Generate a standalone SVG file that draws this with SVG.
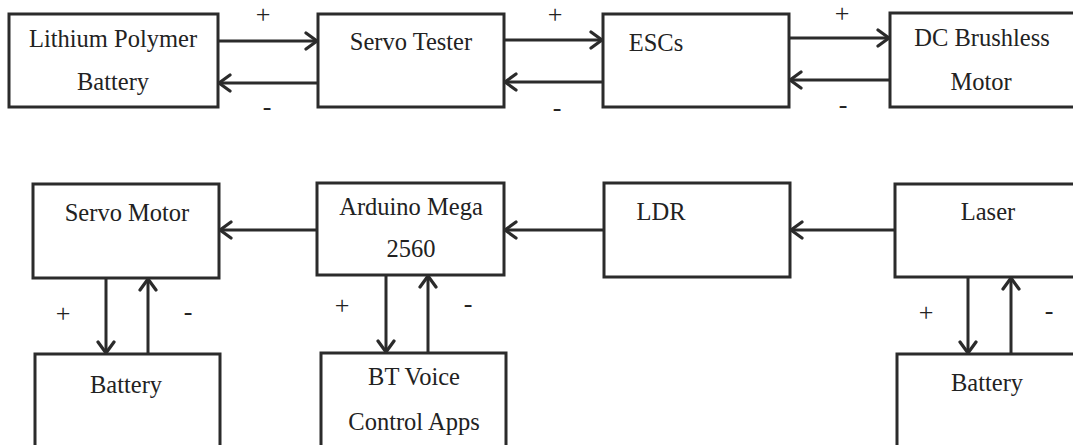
<svg xmlns="http://www.w3.org/2000/svg" width="1073" height="445" viewBox="0 0 1073 445">
  <style>
    .box { fill: #ffffff; stroke: #2b2b2b; stroke-width: 3; }
    .wire { stroke: #2b2b2b; stroke-width: 3; fill: none; marker-end: url(#head); }
  </style>
  <defs>
    <marker id="head" markerUnits="userSpaceOnUse" markerWidth="16" markerHeight="20" viewBox="0 0 16 20" refX="13" refY="10" orient="auto">
      <path d="M2,2 L13,10 L2,18" fill="none" stroke="#2b2b2b" stroke-width="3.2" stroke-linecap="round" stroke-linejoin="round"/>
    </marker>
  </defs>
  <rect width="1073" height="445" fill="#ffffff"/>

  <g font-family="Liberation Serif, serif" font-size="24.5" fill="#222222" text-anchor="middle">
  <!-- top row: power chain -->
  <g id="lipo-battery">
    <rect class="box" x="9" y="14" width="209" height="93"/>
    <text x="113" y="47">Lithium Polymer</text>
    <text x="113" y="90">Battery</text>
  </g>
  <g id="servo-tester">
    <rect class="box" x="318" y="14" width="186" height="93"/>
    <text x="411" y="50">Servo Tester</text>
  </g>
  <g id="escs">
    <rect class="box" x="603" y="14" width="186" height="93"/>
    <text x="656" y="51">ESCs</text>
  </g>
  <g id="dc-brushless-motor">
    <rect class="box" x="890" y="13" width="200" height="94"/>
    <text x="982" y="46">DC Brushless</text>
    <text x="981" y="90">Motor</text>
  </g>

  <!-- bottom row: control chain -->
  <g id="servo-motor">
    <rect class="box" x="33" y="184" width="186" height="94"/>
    <text x="127" y="221">Servo Motor</text>
  </g>
  <g id="arduino-mega">
    <rect class="box" x="317" y="183" width="187" height="92"/>
    <text x="411" y="215">Arduino Mega</text>
    <text x="411" y="257">2560</text>
  </g>
  <g id="ldr">
    <rect class="box" x="604" y="183" width="186" height="94"/>
    <text x="661" y="220">LDR</text>
  </g>
  <g id="laser">
    <rect class="box" x="895" y="184" width="200" height="93"/>
    <text x="988" y="220">Laser</text>
  </g>
  <g id="servo-battery">
    <rect class="box" x="35" y="354" width="185" height="110"/>
    <text x="126" y="393">Battery</text>
  </g>
  <g id="bt-voice-control">
    <rect class="box" x="321" y="353" width="185" height="110"/>
    <text x="414" y="385">BT Voice</text>
    <text x="414" y="430">Control Apps</text>
  </g>
  <g id="laser-battery">
    <rect class="box" x="897" y="354" width="200" height="110"/>
    <text x="987" y="391">Battery</text>
  </g>

  <!-- connectors -->
  <g id="connectors">
    <path class="wire" d="M218,41 H317"/>
    <path class="wire" d="M318,83 H219"/>
    <path class="wire" d="M504,40 H602"/>
    <path class="wire" d="M603,82 H505"/>
    <path class="wire" d="M789,38 H889"/>
    <path class="wire" d="M890,80 H790"/>

    <path class="wire" d="M317,230 H220"/>
    <path class="wire" d="M604,230 H505"/>
    <path class="wire" d="M895,230 H791"/>

    <path class="wire" d="M106,278 V353"/>
    <path class="wire" d="M148,354 V279"/>
    <path class="wire" d="M386,275 V352"/>
    <path class="wire" d="M428,353 V276"/>
    <path class="wire" d="M968,277 V353"/>
    <path class="wire" d="M1011,354 V278"/>

    <g font-size="26">
      <text x="263" y="23">+</text>
      <text x="267" y="115">-</text>
      <text x="555" y="23">+</text>
      <text x="557" y="116">-</text>
      <text x="842" y="22">+</text>
      <text x="843" y="113">-</text>

      <text x="63" y="322">+</text>
      <text x="188" y="320">-</text>
      <text x="342" y="314">+</text>
      <text x="468" y="312">-</text>
      <text x="926" y="321">+</text>
      <text x="1049" y="319">-</text>
    </g>
  </g>
  </g>
</svg>
